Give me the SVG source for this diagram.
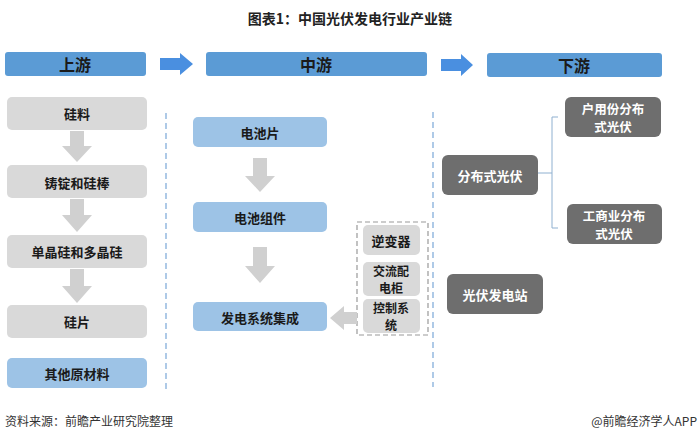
<svg xmlns="http://www.w3.org/2000/svg" width="700" height="440" viewBox="0 0 700 440">
<style>
text{font-family:"Noto Sans CJK SC","Liberation Sans",sans-serif;text-anchor:middle;dominant-baseline:central}
.hdr{fill:#5b9bd5}
.ht{font-size:16px;font-weight:bold;fill:#1a1a1a}
.lg{fill:#d9d9d9}
.lb{fill:#9dc3e6}
.dg{fill:#6e6e6e}
.t{font-size:13px;font-weight:bold;fill:#1a1a1a}
.t2{font-size:12px;font-weight:bold;fill:#1a1a1a}
.w{font-size:13px;font-weight:bold;fill:#ffffff}
.w2{font-size:12.5px;font-weight:bold;fill:#ffffff}
.ga{fill:#d0d0d0}
.ba{fill:#4a8fe0}
.div{stroke:#7aa7d8;stroke-width:1.2;stroke-dasharray:6 4;fill:none}
</style>
<rect width="700" height="440" fill="#ffffff"/>
<text x="350" y="18" style="font-size:14px;font-weight:bold;fill:#222">图表1：中国光伏发电行业产业链</text>

<g id="header-upstream"><rect class="hdr" x="5" y="52" width="141" height="24" rx="3"/><text class="ht" x="75" y="64">上游</text></g>
<g id="header-midstream"><rect class="hdr" x="206" y="52" width="221" height="24" rx="3"/><text class="ht" x="316" y="64">中游</text></g>
<g id="header-downstream"><rect class="hdr" x="487" y="53" width="175" height="24" rx="3"/><text class="ht" x="574" y="65">下游</text></g>

<g id="n-guiliao"><rect class="lg" x="7" y="97" width="140" height="33" rx="5"/><text class="t" x="77" y="113">硅料</text></g>
<g id="n-zhuding"><rect class="lg" x="7" y="165" width="140" height="33" rx="5"/><text class="t" x="77" y="182">铸锭和硅棒</text></g>
<g id="n-danjing"><rect class="lg" x="7" y="235" width="140" height="33" rx="5"/><text class="t" x="77" y="251">单晶硅和多晶硅</text></g>
<g id="n-guipian"><rect class="lg" x="7" y="305" width="140" height="33" rx="5"/><text class="t" x="77" y="321">硅片</text></g>
<g id="n-qita"><rect class="lb" x="7" y="358" width="140" height="30" rx="5"/><text class="t" x="77" y="373">其他原材料</text></g>

<g id="n-dianchipian"><rect class="lb" x="193" y="117" width="134" height="30" rx="5"/><text class="t" x="260" y="132">电池片</text></g>
<g id="n-zujian"><rect class="lb" x="193" y="202" width="134" height="30" rx="5"/><text class="t" x="260" y="217">电池组件</text></g>
<g id="n-jicheng"><rect class="lb" x="193" y="302" width="134" height="29" rx="5"/><text class="t" x="260" y="317">发电系统集成</text></g>

<g id="n-group"><rect x="357" y="222" width="71" height="113" fill="none" stroke="#999" stroke-width="1.2" stroke-dasharray="5 3"/></g>
<g id="n-nibianqi"><rect class="lg" x="363" y="225" width="57" height="30" rx="5"/><text class="t" x="391" y="240">逆变器</text></g>
<g id="n-peidiangui"><rect class="lg" x="363" y="262" width="57" height="34" rx="5"/><text class="t2" x="391" y="270.5">交流配</text><text class="t2" x="391" y="287.5">电柜</text></g>
<g id="n-kongzhi"><rect class="lg" x="363" y="299" width="57" height="34" rx="5"/><text class="t2" x="391" y="307.5">控制系</text><text class="t2" x="391" y="324.5">统</text></g>

<g id="n-fenbushi"><rect class="dg" x="442" y="155" width="96" height="40" rx="6"/><text class="w" x="490" y="175">分布式光伏</text></g>
<g id="n-huyong"><rect class="dg" x="565" y="97" width="96" height="40" rx="6"/><text class="w2" x="613" y="108">户用份分布</text><text class="w2" x="613" y="126">式光伏</text></g>
<g id="n-gongshangye"><rect class="dg" x="567" y="204" width="95" height="40" rx="6"/><text class="w2" x="614" y="215">工商业分布</text><text class="w2" x="614" y="233">式光伏</text></g>
<g id="n-dianzhan"><rect class="dg" x="447" y="274" width="96" height="40" rx="6"/><text class="w" x="495" y="294">光伏发电站</text></g>

<g id="connectors">
<polygon class="ba" points="160,58 180,58 180,53 193,64 180,75 180,70 160,70"/>
<polygon class="ba" points="441,59 461,59 461,54 473,65 461,76 461,71 441,71"/>
<polygon class="ga" points="70,131 84,131 84,146 92,146 77,162 62,146 70,146"/>
<polygon class="ga" points="70,199 84,199 84,215 92,215 77,232 62,215 70,215"/>
<polygon class="ga" points="70,269 84,269 84,286 92,286 77,303 62,286 70,286"/>
<polygon class="ga" points="253,158 267,158 267,176 275,176 260,192 245,176 253,176"/>
<polygon class="ga" points="253,247 267,247 267,266 275,266 260,283 245,266 253,266"/>
<polygon class="ga" points="357,312 344,312 344,306 330,318 344,330 344,324 357,324"/>
<path class="div" d="M166,113 V392"/>
<path class="div" d="M433,112 V387"/>
<path d="M538,173 H552 M558,117 H552 V228 H558" fill="none" stroke="#8fb0d0" stroke-width="1"/>
</g>

<text x="5" y="420" style="text-anchor:start;font-size:12px;fill:#333">资料来源：前瞻产业研究院整理</text>
<text x="697" y="420" style="text-anchor:end;font-size:12px;fill:#333">@前瞻经济学人APP</text>
</svg>
